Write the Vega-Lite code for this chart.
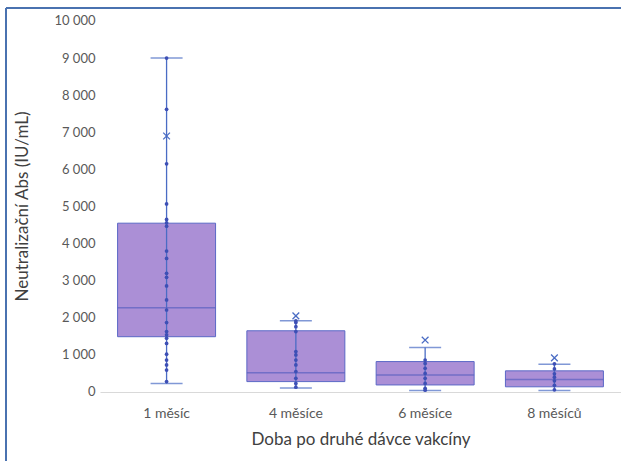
{
  "$schema": "https://vega.github.io/schema/vega-lite/v6.json",
  "width": 615,
  "height": 453,
  "autosize": "none",
  "padding": {"left": 6, "top": 8, "right": 0, "bottom": 0},
  "background": "white",
  "config": {
    "font": "Lato",
    "view": {"stroke": "#4a72b0", "strokeWidth": 2, "strokeDash": [615, 1068, 453, 0]}
  },
  "datasets": {
    "stats": [
      {"doba": "1 měsíc", "lower": 230, "q1": 1490, "median": 2270, "q3": 4550, "upper": 9000, "mean": 6900},
      {"doba": "4 měsíce", "lower": 110, "q1": 280, "median": 520, "q3": 1650, "upper": 1920, "mean": 2050},
      {"doba": "6 měsíce", "lower": 40, "q1": 190, "median": 460, "q3": 820, "upper": 1200, "mean": 1400},
      {"doba": "8 měsíců", "lower": 40, "q1": 140, "median": 340, "q3": 570, "upper": 750, "mean": 920}
    ],
    "points": [
      {"doba": "1 měsíc", "value": 9000}, {"doba": "1 měsíc", "value": 7620}, {"doba": "1 měsíc", "value": 6150},
      {"doba": "1 měsíc", "value": 5070}, {"doba": "1 měsíc", "value": 4650}, {"doba": "1 měsíc", "value": 4560},
      {"doba": "1 měsíc", "value": 4470}, {"doba": "1 měsíc", "value": 3800}, {"doba": "1 měsíc", "value": 3600},
      {"doba": "1 měsíc", "value": 3200}, {"doba": "1 měsíc", "value": 3090}, {"doba": "1 měsíc", "value": 2860},
      {"doba": "1 měsíc", "value": 2480}, {"doba": "1 měsíc", "value": 2210}, {"doba": "1 měsíc", "value": 1870},
      {"doba": "1 měsíc", "value": 1630}, {"doba": "1 měsíc", "value": 1540}, {"doba": "1 měsíc", "value": 1450},
      {"doba": "1 měsíc", "value": 1310}, {"doba": "1 měsíc", "value": 1020}, {"doba": "1 měsíc", "value": 860},
      {"doba": "1 měsíc", "value": 730}, {"doba": "1 měsíc", "value": 590}, {"doba": "1 měsíc", "value": 280},
      {"doba": "4 měsíce", "value": 1920}, {"doba": "4 měsíce", "value": 1870}, {"doba": "4 měsíce", "value": 1760},
      {"doba": "4 měsíce", "value": 1630}, {"doba": "4 měsíce", "value": 1090}, {"doba": "4 měsíce", "value": 1000},
      {"doba": "4 měsíce", "value": 860}, {"doba": "4 měsíce", "value": 730}, {"doba": "4 měsíce", "value": 550},
      {"doba": "4 měsíce", "value": 370}, {"doba": "4 měsíce", "value": 230}, {"doba": "4 měsíce", "value": 130},
      {"doba": "6 měsíce", "value": 860}, {"doba": "6 měsíce", "value": 770}, {"doba": "6 měsíce", "value": 640},
      {"doba": "6 měsíce", "value": 500}, {"doba": "6 měsíce", "value": 370}, {"doba": "6 měsíce", "value": 230},
      {"doba": "6 měsíce", "value": 100}, {"doba": "6 měsíce", "value": 50},
      {"doba": "8 měsíců", "value": 760}, {"doba": "8 měsíců", "value": 620}, {"doba": "8 měsíců", "value": 490},
      {"doba": "8 měsíců", "value": 400}, {"doba": "8 měsíců", "value": 300}, {"doba": "8 měsíců", "value": 180},
      {"doba": "8 měsíců", "value": 60}
    ]
  },
  "encoding": {
    "x": {
      "field": "doba",
      "type": "nominal",
      "title": "Doba po druhé dávce vakcíny",
      "scale": {
        "domain": ["1 měsíc", "4 měsíce", "6 měsíce", "8 měsíců"],
        "range": [94, 615],
        "paddingInner": 0.242,
        "paddingOuter": 0.136
      },
      "axis": {
        "orient": "bottom",
        "offset": -69,
        "labelAngle": 0,
        "ticks": false,
        "domainColor": "#d9d9d9",
        "domainWidth": 1,
        "labelFont": "Lato",
        "labelFontSize": 14,
        "labelColor": "#595959",
        "labelPadding": 14,
        "titleFont": "Lato",
        "titleFontSize": 17,
        "titleFontWeight": "normal",
        "titleColor": "#404040",
        "titleBaseline": "middle",
        "titleY": 47
      }
    }
  },
  "layer": [
    {
      "data": {"name": "stats"},
      "mark": {"type": "bar", "fill": "#ab8fd6", "stroke": "#5b68c6", "strokeWidth": 1},
      "encoding": {
        "y": {
          "field": "q1",
          "type": "quantitative",
          "title": "Neutralizační Abs (IU/mL)",
          "scale": {"domain": [-1860, 10350], "nice": false, "zero": false},
          "axis": {
            "values": [0, 1000, 2000, 3000, 4000, 5000, 6000, 7000, 8000, 9000, 10000],
            "labelExpr": "replace(format(datum.value, ','), ',', ' ')",
            "offset": -89,
            "labelPadding": 0,
            "ticks": false,
            "domain": false,
            "grid": false,
            "labelFont": "Lato",
            "labelFontSize": 13,
            "labelColor": "#595959",
            "titleFont": "Lato",
            "titleFontSize": 17,
            "titleFontWeight": "normal",
            "titleColor": "#404040",
            "titleBaseline": "middle",
            "titleX": -73,
            "titleY": 198
          }
        },
        "y2": {"field": "q3"}
      }
    },
    {
      "data": {"name": "stats"},
      "mark": {"type": "rule", "color": "#4a6cc4", "strokeWidth": 1.3},
      "encoding": {
        "y": {"field": "lower", "type": "quantitative", "title": "Neutralizační Abs (IU/mL)"},
        "y2": {"field": "upper"}
      }
    },
    {
      "data": {"name": "stats"},
      "mark": {"type": "tick", "color": "#5a5fc0", "size": 98, "thickness": 1.5},
      "encoding": {
        "y": {"field": "median", "type": "quantitative", "title": "Neutralizační Abs (IU/mL)"}
      }
    },
    {
      "data": {"name": "stats"},
      "mark": {"type": "tick", "color": "#4a6cc4", "size": 32, "thickness": 1.5},
      "encoding": {
        "y": {"field": "lower", "type": "quantitative", "title": "Neutralizační Abs (IU/mL)"}
      }
    },
    {
      "data": {"name": "stats"},
      "mark": {"type": "tick", "color": "#4a6cc4", "size": 32, "thickness": 1.5},
      "encoding": {
        "y": {"field": "upper", "type": "quantitative", "title": "Neutralizační Abs (IU/mL)"}
      }
    },
    {
      "data": {"name": "points"},
      "mark": {"type": "circle", "color": "#3d4fb5", "size": 14, "opacity": 1},
      "encoding": {
        "y": {"field": "value", "type": "quantitative", "title": "Neutralizační Abs (IU/mL)"}
      }
    },
    {
      "data": {"name": "stats"},
      "mark": {"type": "point", "shape": "M-1,-1L1,1M-1,1L1,-1", "filled": false, "stroke": "#4a6cc4", "strokeWidth": 1.3, "size": 45, "opacity": 1},
      "encoding": {
        "y": {"field": "mean", "type": "quantitative", "title": "Neutralizační Abs (IU/mL)"}
      }
    }
  ]
}
